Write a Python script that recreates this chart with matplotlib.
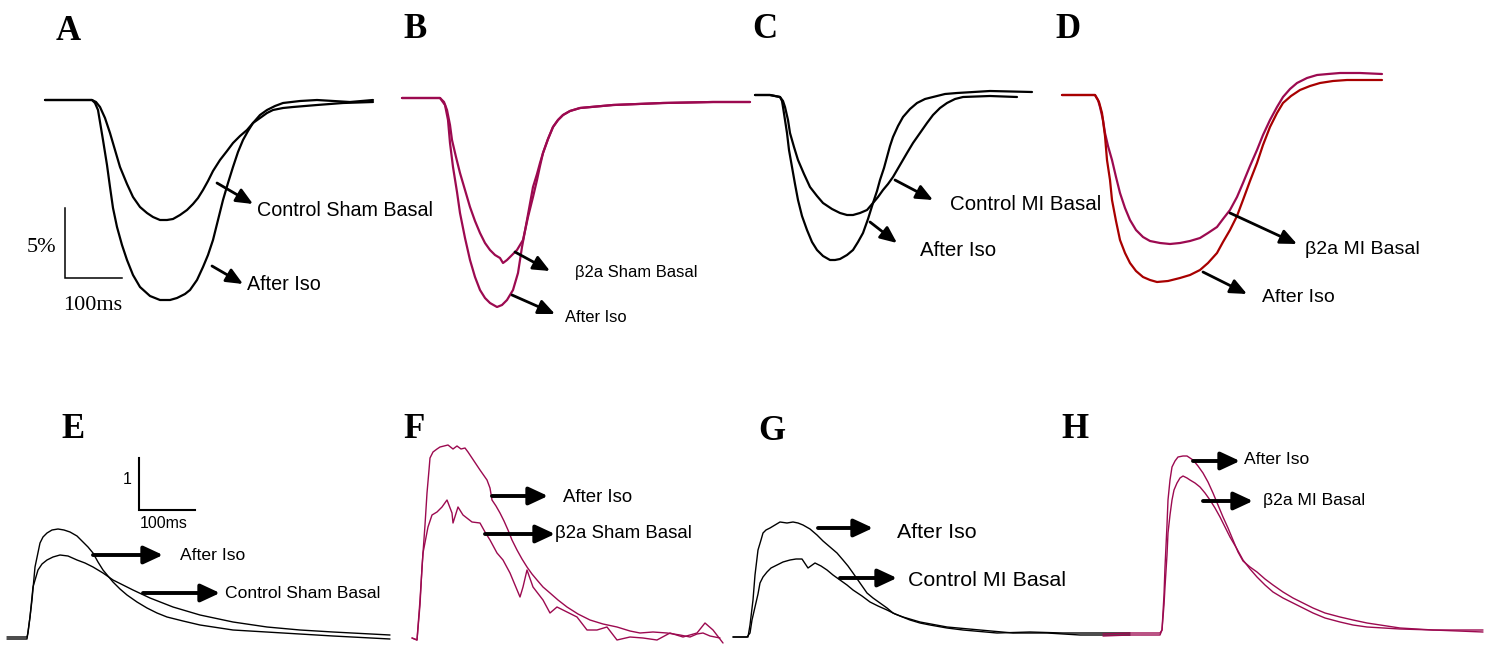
import matplotlib
matplotlib.use("Agg")
import matplotlib.pyplot as plt

# ---------------- data (figure pixel units) ----------------
# Panel A: cell shortening, Control Sham
A_basal_x = [45, 70, 92, 96, 100, 105, 110, 115, 120, 127, 133, 140, 147, 153, 160, 167, 173, 180, 187, 193, 198, 203, 208, 213, 220, 227, 233, 240, 247, 253, 260, 267, 273, 283, 293, 317, 343, 373]
A_basal_y = [100, 100, 100, 102, 107, 118, 133, 150, 167, 184, 197, 207, 213, 217, 220, 220, 219, 215, 210, 204, 198, 190, 181, 171, 160, 151, 143, 136, 130, 123, 118, 113, 110, 108, 107, 105, 103, 102]
A_iso_x = [45, 70, 92, 95, 98, 100, 103, 107, 110, 113, 117, 122, 127, 133, 140, 150, 160, 170, 177, 185, 190, 197, 203, 208, 213, 218, 223, 228, 233, 238, 243, 248, 253, 260, 267, 275, 283, 300, 317, 350, 373]
A_iso_y = [100, 100, 100, 103, 110, 122, 140, 165, 187, 208, 227, 245, 260, 275, 287, 296, 300, 300, 298, 294, 290, 280, 267, 255, 240, 220, 200, 183, 167, 152, 140, 131, 123, 115, 110, 106, 103, 101, 100, 102, 100]

# Panel B: β2a Sham
B_basal_x = [402, 420, 440, 444, 447, 450, 452, 456, 460, 465, 470, 475, 480, 485, 490, 495, 500, 503, 507, 510, 517, 523, 528, 533, 537, 540, 543, 548, 553, 558, 563, 570, 580, 613, 663, 713, 750]
B_basal_y = [98, 98, 98, 102, 110, 125, 140, 157, 173, 190, 207, 221, 233, 243, 250, 255, 258, 263, 260, 257, 250, 240, 217, 197, 180, 166, 153, 139, 127, 120, 115, 111, 108, 105, 103, 102, 102]
B_iso_x = [402, 420, 440, 445, 448, 450, 453, 457, 460, 465, 470, 475, 480, 485, 490, 497, 502, 507, 513, 518, 522, 527, 533, 537, 540, 543, 548, 553, 558, 563, 570, 580, 613, 663, 713, 750]
B_iso_y = [98, 98, 98, 105, 120, 143, 167, 192, 213, 238, 260, 277, 290, 298, 303, 307, 305, 300, 290, 273, 247, 220, 187, 174, 163, 153, 139, 127, 120, 115, 111, 108, 105, 103, 102, 102]

# Panel C: Control MI
C_basal_x = [755, 770, 780, 783, 785, 788, 790, 794, 798, 804, 810, 817, 823, 832, 840, 847, 853, 860, 867, 873, 878, 883, 888, 893, 900, 907, 913, 920, 927, 933, 940, 947, 955, 963, 990, 1017]
C_basal_y = [95, 95, 97, 101, 107, 120, 133, 147, 160, 174, 187, 196, 203, 209, 213, 215, 215, 213, 210, 203, 197, 190, 184, 177, 165, 153, 143, 133, 123, 115, 108, 103, 99, 97, 96, 97]
C_iso_x = [755, 770, 780, 782, 783, 785, 787, 789, 792, 795, 798, 802, 807, 812, 817, 823, 830, 835, 840, 847, 853, 858, 863, 868, 873, 877, 880, 884, 887, 890, 893, 898, 903, 910, 917, 925, 933, 945, 957, 990, 1032]
C_iso_y = [95, 95, 97, 101, 107, 120, 133, 150, 167, 184, 200, 216, 230, 242, 250, 256, 260, 260, 259, 255, 250, 242, 233, 219, 203, 191, 180, 168, 157, 146, 137, 126, 117, 109, 103, 99, 97, 94, 93, 91, 92]

# Panel D: β2a MI
D_basal_x = [1062, 1080, 1095, 1098, 1100, 1103, 1105, 1108, 1112, 1116, 1120, 1125, 1130, 1136, 1143, 1150, 1160, 1170, 1180, 1190, 1200, 1208, 1217, 1223, 1230, 1237, 1243, 1250, 1257, 1263, 1270, 1277, 1283, 1290, 1297, 1307, 1317, 1328, 1340, 1360, 1382]
D_basal_y = [95, 95, 95, 100, 107, 120, 133, 146, 160, 177, 193, 208, 220, 230, 237, 241, 243, 244, 243, 241, 238, 233, 227, 219, 210, 197, 183, 166, 150, 135, 120, 107, 97, 89, 83, 78, 75, 74, 73, 73, 74]
D_iso_x = [1062, 1080, 1095, 1099, 1102, 1105, 1107, 1110, 1112, 1116, 1120, 1125, 1130, 1136, 1143, 1150, 1157, 1168, 1180, 1190, 1200, 1208, 1217, 1223, 1230, 1237, 1243, 1250, 1257, 1263, 1270, 1277, 1283, 1291, 1300, 1310, 1320, 1333, 1347, 1365, 1382]
D_iso_y = [95, 95, 95, 102, 113, 136, 160, 180, 200, 221, 240, 253, 263, 271, 277, 280, 282, 281, 278, 275, 270, 263, 253, 242, 230, 216, 200, 181, 163, 145, 127, 113, 103, 96, 90, 86, 83, 81, 80, 80, 80]

# Panel E: Ca transient, Control Sham
E_basal_x = [7, 27, 30, 33, 38, 42, 47, 53, 60, 68, 77, 85, 93, 103, 113, 123, 133, 150, 173, 200, 233, 267, 300, 333, 390]
E_basal_y = [639, 639, 617, 587, 570, 564, 560, 557, 555, 556, 560, 563, 567, 573, 580, 585, 590, 598, 607, 615, 622, 627, 630, 632, 635]
E_iso_x = [7, 27, 28, 30, 32, 35, 40, 43, 47, 52, 58, 64, 70, 77, 83, 88, 93, 98, 103, 108, 113, 120, 127, 137, 147, 157, 167, 183, 200, 233, 283, 333, 390]
E_iso_y = [637, 637, 633, 617, 600, 567, 543, 537, 533, 530, 529, 530, 532, 536, 542, 547, 553, 562, 570, 576, 582, 589, 595, 602, 608, 613, 617, 621, 625, 630, 633, 636, 639]

# Panel F: β2a Sham
F_basal_x = [412, 417, 420, 423, 428, 432, 437, 442, 447, 452, 453, 458, 463, 472, 480, 485, 490, 497, 503, 510, 515, 520, 523, 527, 533, 543, 550, 557, 563, 577, 587, 597, 607, 617, 630, 643, 657, 670, 683, 697, 705, 713, 723]
F_basal_y = [638, 640, 600, 553, 527, 515, 512, 507, 500, 513, 523, 507, 515, 522, 523, 532, 540, 553, 560, 573, 585, 597, 587, 570, 587, 600, 613, 607, 610, 617, 630, 630, 627, 640, 637, 638, 640, 633, 637, 633, 623, 630, 643]
F_iso_x = [412, 417, 420, 422, 425, 427, 429, 430, 432, 433, 437, 440, 448, 453, 457, 461, 465, 468, 472, 476, 480, 487, 490, 492, 496, 500, 504, 508, 512, 517, 522, 527, 532, 537, 543, 550, 558, 567, 578, 590, 603, 617, 630, 640, 653, 667, 680, 690, 697, 703, 710, 720]
F_iso_y = [638, 640, 605, 567, 525, 493, 470, 458, 454, 452, 449, 447, 445, 449, 446, 449, 448, 452, 458, 464, 470, 480, 488, 500, 506, 513, 521, 530, 540, 550, 559, 567, 574, 580, 587, 593, 600, 607, 614, 620, 624, 627, 631, 633, 632, 633, 635, 637, 634, 633, 636, 638]

# Panel G: Control MI
G_basal_x = [733, 747, 750, 752, 755, 758, 760, 763, 767, 771, 777, 783, 790, 796, 802, 808, 815, 821, 827, 833, 840, 847, 853, 862, 870, 878, 887, 895, 903, 920, 947, 980, 1013, 1047, 1080, 1130]
G_basal_y = [637, 637, 633, 620, 607, 594, 583, 577, 572, 568, 565, 562, 560, 559, 559, 568, 563, 566, 570, 575, 580, 585, 590, 596, 602, 606, 610, 614, 617, 622, 627, 630, 633, 633, 635, 635]
G_iso_x = [733, 748, 750, 753, 755, 758, 761, 763, 766, 770, 775, 780, 787, 793, 798, 803, 810, 817, 823, 830, 837, 843, 848, 853, 860, 867, 873, 880, 887, 893, 900, 910, 920, 930, 947, 963, 997, 1030, 1063, 1097, 1130]
G_iso_y = [637, 637, 625, 600, 575, 550, 540, 533, 530, 528, 525, 522, 523, 522, 523, 525, 529, 535, 541, 547, 553, 560, 566, 573, 583, 593, 598, 603, 608, 613, 616, 620, 623, 625, 628, 630, 633, 632, 633, 633, 633]

# Panel H: β2a MI
H_basal_x = [1103, 1130, 1160, 1162, 1164, 1165, 1167, 1168, 1170, 1172, 1174, 1177, 1180, 1183, 1187, 1190, 1195, 1200, 1205, 1210, 1215, 1220, 1225, 1230, 1237, 1243, 1250, 1257, 1265, 1273, 1283, 1293, 1303, 1313, 1325, 1340, 1353, 1367, 1400, 1433, 1483]
H_basal_y = [636, 635, 635, 630, 605, 587, 555, 533, 515, 500, 490, 483, 478, 476, 478, 480, 483, 487, 493, 500, 508, 517, 527, 537, 549, 560, 569, 577, 585, 592, 598, 603, 608, 613, 618, 622, 625, 627, 629, 630, 632]
H_iso_x = [1103, 1130, 1160, 1162, 1164, 1165, 1167, 1168, 1170, 1172, 1175, 1178, 1183, 1187, 1190, 1193, 1198, 1203, 1208, 1213, 1218, 1223, 1228, 1233, 1238, 1243, 1250, 1257, 1265, 1273, 1283, 1293, 1303, 1313, 1325, 1340, 1353, 1367, 1400, 1433, 1483]
H_iso_y = [634, 633, 633, 630, 595, 567, 525, 500, 480, 467, 461, 457, 456, 456, 458, 460, 466, 473, 482, 493, 505, 517, 528, 540, 552, 561, 567, 572, 579, 585, 592, 598, 603, 608, 613, 617, 620, 623, 628, 630, 630]

panel_letters = ["A", "B", "C", "D", "E", "F", "G", "H"]

# ---------------- styles ----------------
BLACK = "black"
MAGENTA = "#9C0A50"
RED = "#A80000"
SANS = "Liberation Sans"
SERIF = "Liberation Serif"

fig = plt.figure(figsize=(14.92, 6.47), dpi=100)
ax = fig.add_axes([0, 0, 1, 1])
ax.set_xlim(0, 1492)
ax.set_ylim(647, 0)
ax.axis("off")

top_lw = 1.6
bot_lw = 1.0
kw = dict(solid_joinstyle="round", solid_capstyle="round")

# top row traces
ax.plot(A_basal_x, A_basal_y, color=BLACK, lw=top_lw, **kw)
ax.plot(A_iso_x, A_iso_y, color=BLACK, lw=top_lw, **kw)
ax.plot(B_basal_x, B_basal_y, color=MAGENTA, lw=top_lw, **kw)
ax.plot(B_iso_x, B_iso_y, color=MAGENTA, lw=top_lw, **kw)
ax.plot(C_basal_x, C_basal_y, color=BLACK, lw=top_lw, **kw)
ax.plot(C_iso_x, C_iso_y, color=BLACK, lw=top_lw, **kw)
ax.plot(D_basal_x, D_basal_y, color=MAGENTA, lw=top_lw, **kw)
ax.plot(D_iso_x, D_iso_y, color=RED, lw=top_lw, **kw)

# bottom row traces
ax.plot(E_basal_x, E_basal_y, color=BLACK, lw=bot_lw, **kw)
ax.plot(E_iso_x, E_iso_y, color=BLACK, lw=bot_lw, **kw)
ax.plot(F_basal_x, F_basal_y, color=MAGENTA, lw=bot_lw, **kw)
ax.plot(F_iso_x, F_iso_y, color=MAGENTA, lw=bot_lw, **kw)
ax.plot(G_basal_x, G_basal_y, color=BLACK, lw=bot_lw, **kw)
ax.plot(G_iso_x, G_iso_y, color=BLACK, lw=bot_lw, **kw)
ax.plot(H_basal_x, H_basal_y, color=MAGENTA, lw=bot_lw, **kw)
ax.plot(H_iso_x, H_iso_y, color=MAGENTA, lw=bot_lw, **kw)


def arrow(tail, head, lw, hl, hw):
    ax.annotate("", xy=head, xytext=tail,
                arrowprops=dict(arrowstyle=f"-|>,head_length={hl},head_width={hw}",
                                lw=lw, color="black", shrinkA=0, shrinkB=0,
                                mutation_scale=20))


def label(x, y, s, size):
    ax.text(x, y, s, ha="left", va="center", fontsize=size, family=SANS)


# top row arrows + labels
arrow((217, 183), (253, 204), 2.0, 0.5, 0.22)
label(257, 211, "Control Sham Basal", 14.2)
arrow((212, 266), (243, 284), 2.0, 0.5, 0.22)
label(247, 285, "After Iso", 14.2)

arrow((515, 252), (550, 271), 2.0, 0.5, 0.22)
label(575, 272, "β2a Sham Basal", 11.9)
arrow((512, 295), (555, 314), 2.0, 0.5, 0.22)
label(565, 318, "After Iso", 11.9)

arrow((895, 180), (933, 200), 2.0, 0.5, 0.22)
label(950, 204, "Control MI Basal", 14.8)
arrow((870, 222), (897, 243), 2.0, 0.5, 0.22)
label(920, 250, "After Iso", 14.8)

arrow((1230, 213), (1297, 244), 2.0, 0.5, 0.22)
label(1305, 250, "β2a MI Basal", 14)
arrow((1203, 272), (1247, 294), 2.0, 0.5, 0.22)
label(1262, 298, "After Iso", 14)

# bottom row arrows + labels
arrow((93, 555), (163, 555), 2.8, 0.58, 0.27)
label(180, 555, "After Iso", 12.6)
arrow((143, 593), (220, 593), 2.8, 0.58, 0.27)
label(225, 593, "Control Sham Basal", 12.6)

arrow((492, 496), (548, 496), 2.8, 0.58, 0.27)
label(563, 497, "After Iso", 13.4)
arrow((485, 534), (555, 534), 2.8, 0.58, 0.27)
label(555, 534, "β2a Sham Basal", 13.4)

arrow((818, 528), (873, 528), 2.8, 0.58, 0.27)
label(897, 532, "After Iso", 15.4)
arrow((840, 578), (897, 578), 2.8, 0.58, 0.27)
label(908, 580, "Control MI Basal", 15.4)

arrow((1193, 461), (1240, 461), 2.8, 0.58, 0.27)
label(1244, 460, "After Iso", 12.6)
arrow((1203, 501), (1253, 501), 2.8, 0.58, 0.27)
label(1263, 500, "β2a MI Basal", 12.6)

# scale bars
ax.plot([65, 65, 122], [208, 278, 278], color="black", lw=1.1, solid_joinstyle="miter")
ax.text(41, 247, "5%", ha="center", va="center", fontsize=16, family=SERIF)
ax.text(93, 305, "100ms", ha="center", va="center", fontsize=16, family=SERIF)

ax.plot([139, 139, 195], [458, 510, 510], color="black", lw=1.5, solid_joinstyle="miter")
ax.text(127, 480, "1", ha="center", va="center", fontsize=11.5, family=SANS)
ax.text(164, 524, "100ms", ha="center", va="center", fontsize=11.5, family=SANS)

# panel letters
letter_pos = [(68, 31), (415, 30), (765, 30), (1068, 30),
              (73, 429), (414, 429), (772, 431), (1075, 429)]
for s, (x, y) in zip(panel_letters, letter_pos):
    ax.text(x, y, s, ha="center", va="center", fontsize=25, fontweight="bold", family=SERIF)

fig.savefig("out.png", dpi=100)
